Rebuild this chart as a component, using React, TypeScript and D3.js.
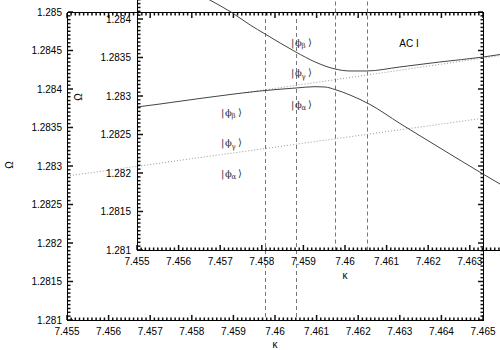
import React, { useEffect, useRef } from "react";
import * as d3 from "d3";

// main frame
const outerXTicks = [7.455, 7.456, 7.457, 7.458, 7.459, 7.46, 7.461, 7.462, 7.463, 7.464, 7.465];
const outerYTicks = [1.281, 1.2815, 1.282, 1.2825, 1.283, 1.2835, 1.284, 1.2845, 1.285];
const outerDotKappa = [7.455, 7.465];
const outerDotOmega = [1.28287, 1.28362];
const outerDashed = [7.45976, 7.4605];

// inset (only the labels that fall inside the picture)
const insetXTicks = [7.455, 7.456, 7.457, 7.458, 7.459, 7.46, 7.461, 7.462, 7.463];
const insetYTicks = [1.281, 1.2815, 1.282, 1.2825, 1.283, 1.2835, 1.284];
const upperKappa = [7.45603, 7.45675, 7.45728, 7.45772, 7.45808, 7.45844, 7.45882, 7.45928, 7.45976, 7.46012, 7.46051, 7.46132, 7.46228, 7.46332, 7.46373];
const upperOmega = [1.284468, 1.284247, 1.284084, 1.283922, 1.283805, 1.283688, 1.283571, 1.283442, 1.283351, 1.283325, 1.283325, 1.283377, 1.283442, 1.283506, 1.283539];
const lowerKappa = [7.455, 7.455553, 7.456514, 7.457236, 7.457957, 7.458822, 7.459279, 7.459519, 7.45976, 7.46012, 7.460601, 7.461322, 7.462284, 7.463317, 7.463726];
const lowerOmega = [1.282857, 1.282896, 1.282968, 1.283019, 1.283065, 1.283104, 1.283121, 1.283117, 1.283084, 1.283013, 1.28289, 1.282643, 1.282325, 1.281987, 1.281857];
const gammaKappa = [7.4576, 7.465];
const gammaOmega = [1.283042, 1.283625];
const insetDashed = [7.45976, 7.46052];

// state labels (inset coordinates)
const stateSubs = ["β", "γ", "α", "β", "γ", "α"];
const stateKappa = [7.45726, 7.45726, 7.45726, 7.45894, 7.45894, 7.45894];
const stateOmega = [1.282792, 1.28239, 1.281994, 1.283701, 1.283299, 1.282896];

const FONT = "'Liberation Sans', Arial, Helvetica, sans-serif";

// 10 minor intervals per major step over a domain
function minorTicks(lo, hi, step) {
    const out = [];
    const n = Math.round((hi - lo) / (step / 10));
    for (let i = 1; i < n; i++) if (i % 10 !== 0) out.push(lo + (i * step) / 10);
    return out;
}

// tick marks; dir = +1/-1 is the direction they point
function tickMarks(g, scale, values, horizontal, pos, len, dir) {
    g.append("g")
        .selectAll("line")
        .data(values)
        .join("line")
        .attr("x1", (d) => (horizontal ? scale(d) : pos))
        .attr("x2", (d) => (horizontal ? scale(d) : pos + dir * len))
        .attr("y1", (d) => (horizontal ? pos : scale(d)))
        .attr("y2", (d) => (horizontal ? pos + dir * len : scale(d)))
        .style("stroke", "#111")
        .style("stroke-width", "1.5px");
}

function labels(g, scale, values, horizontal, pos) {
    const fmt = d3.format("~g");
    g.append("g")
        .selectAll("text")
        .data(values)
        .join("text")
        .attr("x", (d) => (horizontal ? scale(d) : pos))
        .attr("y", (d) => (horizontal ? pos : scale(d) + 3.5))
        .attr("text-anchor", horizontal ? "middle" : "end")
        .attr("font-family", FONT)
        .attr("font-size", 10)
        .attr("fill", "#000")
        .text((d) => fmt(d));
}

const App = () => {
    const ref = useRef(null);

    useEffect(() => {
        const width = 500;
        const height = 350;

        const svg = d3.select(ref.current);
        svg.selectAll("*").remove();
        svg.append("rect").attr("width", width).attr("height", height).attr("fill", "#fff");

        // Scaling
        const xO = d3.scaleLinear().domain([7.455, 7.465]).range([67, 483]);
        const yO = d3.scaleLinear().domain([1.281, 1.285]).range([320, 12]);
        const xI = d3.scaleLinear().domain([7.455, 7.465]).range([137, 553]);
        const yI = d3.scaleLinear().domain([1.281, 1.2845]).range([250, -19.5]);

        const defs = svg.append("defs");
        defs.append("clipPath").attr("id", "clipO").append("rect")
            .attr("x", 67).attr("y", 12).attr("width", 416).attr("height", 308);
        defs.append("clipPath").attr("id", "clipI").append("rect")
            .attr("x", 137).attr("y", -19.5).attr("width", 416).attr("height", 269.5);

        // outer frame
        const outer = svg.append("g");
        const lineO = d3.line().x((d) => xO(d[0])).y((d) => yO(d[1]));
        const dataO = outer.append("g").attr("clip-path", "url(#clipO)");
        dataO.append("path")
            .attr("d", lineO(outerDotKappa.map((k, i) => [k, outerDotOmega[i]])))
            .attr("fill", "none").attr("stroke", "#999").attr("stroke-width", 1)
            .attr("stroke-dasharray", "1,2");
        dataO.selectAll("line").data(outerDashed).join("line")
            .attr("x1", (d) => Math.round(xO(d)) + 0.5).attr("x2", (d) => Math.round(xO(d)) + 0.5)
            .attr("y1", yO(1.285)).attr("y2", yO(1.281))
            .attr("stroke", "#777").attr("stroke-dasharray", "4,3");

        const oxMinor = minorTicks(7.455, 7.465, 0.001);
        const oyMinor = minorTicks(1.281, 1.285, 0.0005);
        tickMarks(outer, xO, outerXTicks, true, 320, 5, -1);
        tickMarks(outer, xO, oxMinor, true, 320, 2.5, -1);
        tickMarks(outer, xO, outerXTicks, true, 13, 5, 1);
        tickMarks(outer, xO, oxMinor, true, 13, 2.5, 1);
        tickMarks(outer, yO, outerYTicks, false, 68, 5, 1);
        tickMarks(outer, yO, oyMinor, false, 68, 2.5, 1);
        tickMarks(outer, yO, outerYTicks, false, 483, 5, -1);
        tickMarks(outer, yO, oyMinor, false, 483, 2.5, -1);
        labels(outer, xO, outerXTicks, true, 335);
        labels(outer, yO, outerYTicks, false, 62);

        outer.append("rect").attr("x", 67.5).attr("y", 12.5).attr("width", 416).attr("height", 308)
            .attr("fill", "none").attr("stroke", "#000");

        outer.append("text").attr("x", 275).attr("y", 348).attr("text-anchor", "middle")
            .attr("font-family", FONT).attr("font-size", 10).text("κ");
        outer.append("text").attr("transform", "translate(13,165) rotate(-90)").attr("text-anchor", "middle")
            .attr("font-family", FONT).attr("font-size", 10).text("Ω");

        // inset
        const inset = svg.append("g");
        const lineI = d3.line().x((d) => xI(d[0])).y((d) => yI(d[1])).curve(d3.curveMonotoneX);
        const dataI = inset.append("g").attr("clip-path", "url(#clipI)");
        dataI.selectAll("line").data(insetDashed).join("line")
            .attr("x1", (d) => Math.round(xI(d)) + 0.5).attr("x2", (d) => Math.round(xI(d)) + 0.5)
            .attr("y1", yI(1.2845)).attr("y2", yI(1.281))
            .attr("stroke", "#777").attr("stroke-dasharray", "4,3");
        dataI.append("path")
            .attr("d", lineI(gammaKappa.map((k, i) => [k, gammaOmega[i]])))
            .attr("fill", "none").attr("stroke", "#999").attr("stroke-dasharray", "1,2");
        dataI.append("path")
            .attr("d", lineI(upperKappa.map((k, i) => [k, upperOmega[i]])))
            .attr("fill", "none").attr("stroke", "#444");
        dataI.append("path")
            .attr("d", lineI(lowerKappa.map((k, i) => [k, lowerOmega[i]])))
            .attr("fill", "none").attr("stroke", "#444");

        const ixMajor = [...insetXTicks, 7.464, 7.465];
        const iyMajor = [...insetYTicks, 1.2845];
        tickMarks(inset, xI, ixMajor, true, 250, 5, -1);
        tickMarks(inset, xI, minorTicks(7.455, 7.465, 0.001), true, 250, 2.5, -1);
        tickMarks(inset, yI, iyMajor, false, 138, 5, 1);
        tickMarks(inset, yI, minorTicks(1.281, 1.2845, 0.0005), false, 138, 2.5, 1);
        labels(inset, xI, insetXTicks, true, 265);
        labels(inset, yI, insetYTicks, false, 131);

        inset.append("line").attr("x1", 137.5).attr("x2", 137.5).attr("y1", -20).attr("y2", 250.5)
            .attr("stroke", "#000");
        inset.append("line").attr("x1", 137).attr("x2", 553).attr("y1", 250.5).attr("y2", 250.5)
            .attr("stroke", "#000");

        inset.append("text").attr("x", 345).attr("y", 279).attr("text-anchor", "middle")
            .attr("font-family", FONT).attr("font-size", 10).text("κ");
        inset.append("text").attr("transform", "translate(82,97) rotate(-90)").attr("text-anchor", "middle")
            .attr("font-family", FONT).attr("font-size", 10).text("Ω");

        inset.append("text").attr("x", 409).attr("y", 47).attr("text-anchor", "middle")
            .attr("font-family", FONT).attr("font-size", 10).attr("fill", "#000").text("AC I");

        // state labels |φ⟩
        const serif = "'DejaVu Serif', 'Liberation Serif', serif";
        const st = inset.append("g").selectAll("g").data(stateSubs).join("g")
            .attr("transform", (d, i) => `translate(${xI(stateKappa[i]) - 10},${yI(stateOmega[i]) + 3.5})`);
        st.append("text").attr("x", 0).attr("font-family", serif).attr("font-size", 10)
            .attr("fill", "#333").text("|");
        st.append("text").attr("x", 4).attr("font-family", serif).attr("font-size", 10)
            .attr("fill", "#333").text("ϕ");
        st.append("text").attr("x", 10.5).attr("y", 2.5).attr("font-family", serif).attr("font-size", 7)
            .attr("fill", "#333").text((d) => d);
        st.append("text").attr("x", 17).attr("font-family", serif).attr("font-size", 10)
            .attr("fill", "#333").text("⟩");
    }, []);

    return (
        <svg
            ref={ref}
            width={500}
            height={350}
            style={{ position: "absolute", left: 0, top: 0, background: "#fff" }}
        />
    );
};

export default App;
